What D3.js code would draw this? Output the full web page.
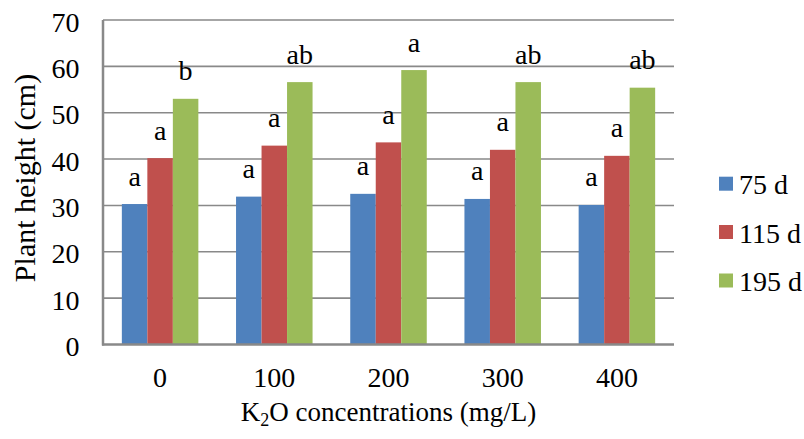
<!DOCTYPE html>
<html>
<head>
<meta charset="utf-8">
<script src="https://cdn.jsdelivr.net/npm/d3@7"></script>
<style>
  html, body { margin: 0; padding: 0; background: #fff; }
  svg { display: block; }
</style>
</head>
<body>
<svg id="chart" width="804" height="439" font-family="'Liberation Serif', 'Times New Roman', Times, serif"></svg>
<script>
const categories = ["0", "100", "200", "300", "400"];
const seriesNames = ["75 d", "115 d", "195 d"];
const values75 = [30.3, 31.9, 32.5, 31.4, 30.1];
const values115 = [40.2, 42.9, 43.6, 42.0, 40.7];
const values195 = [53.0, 56.6, 59.2, 56.6, 55.4];
const letters75 = ["a", "a", "a", "a", "a"];
const letters115 = ["a", "a", "a", "a", "a"];
const letters195 = ["b", "ab", "a", "ab", "ab"];
const yTicks = [0, 10, 20, 30, 40, 50, 60, 70];
const colors = ["#4F81BD", "#C0504D", "#9BBB59"];

const seriesValues = [values75, values115, values195];
const seriesLetters = [letters75, letters115, letters195];

const svg = d3.select("#chart");
const plotLeft = 103, plotRight = 674, plotTop = 20, plotBottom = 344.5;
const fs = 28;

const x = d3.scaleBand().domain(categories).range([plotLeft, plotRight]).paddingInner(0.33).paddingOuter(0.165);
const xs = d3.scaleBand().domain(seriesNames).range([0, x.bandwidth()]).padding(0);
const y = d3.scaleLinear().domain([0, 70]).range([plotBottom, plotTop]);

// gridlines
svg.append("g").selectAll("line").data(yTicks.filter(d => d > 0)).join("line")
  .attr("x1", plotLeft).attr("x2", plotRight)
  .attr("y1", d => y(d)).attr("y2", d => y(d))
  .attr("stroke", "#898989").attr("stroke-width", 1.6);

// bars
const data = [];
categories.forEach((c, i) => {
  seriesNames.forEach((s, j) => {
    data.push({ c, s, j, v: seriesValues[j][i], l: seriesLetters[j][i] });
  });
});

svg.append("g").selectAll("rect").data(data).join("rect")
  .attr("x", d => x(d.c) + xs(d.s))
  .attr("width", xs.bandwidth())
  .attr("y", d => y(d.v))
  .attr("height", d => y(0) - y(d.v))
  .attr("fill", d => colors[d.j]);

// letters
svg.append("g").selectAll("text").data(data).join("text")
  .attr("x", d => x(d.c) + xs(d.s) + xs.bandwidth() / 2)
  .attr("y", d => y(d.v) - 18.5)
  .attr("text-anchor", "middle")
  .attr("font-size", fs)
  .text(d => d.l);

// axes lines
svg.append("line").attr("x1", plotLeft).attr("x2", plotLeft).attr("y1", plotTop).attr("y2", plotBottom + 1)
  .attr("stroke", "#898989").attr("stroke-width", 2.5);
svg.append("line").attr("x1", plotLeft - 1).attr("x2", plotRight).attr("y1", plotBottom).attr("y2", plotBottom)
  .attr("stroke", "#898989").attr("stroke-width", 2.5);

// y tick labels
svg.append("g").selectAll("text").data(yTicks).join("text")
  .attr("x", 79.5).attr("y", d => y(d) + 11.5)
  .attr("text-anchor", "end").attr("font-size", fs)
  .text(d => d);

// x tick labels
svg.append("g").selectAll("text").data(categories).join("text")
  .attr("x", d => x(d) + x.bandwidth() / 2).attr("y", 387)
  .attr("text-anchor", "middle").attr("font-size", fs)
  .text(d => d);

// x title
const xt = svg.append("text").attr("x", (plotLeft + plotRight) / 2).attr("y", 421)
  .attr("text-anchor", "middle").attr("font-size", 27);
xt.append("tspan").text("K");
xt.append("tspan").attr("font-size", 18).attr("dy", 5).text("2");
xt.append("tspan").attr("dy", -5).text("O concentrations (mg/L)");

// y title
svg.append("text").attr("transform", "translate(35,178) rotate(-90)")
  .attr("text-anchor", "middle").attr("font-size", 30)
  .text("Plant height (cm)");

// legend
const legendY = [183.7, 232, 280.5];
const lg = svg.append("g").selectAll("g").data(seriesNames).join("g")
  .attr("transform", (d, i) => `translate(719,${legendY[i]})`);
lg.append("rect").attr("x", 0).attr("y", -7).attr("width", 14).attr("height", 14)
  .attr("fill", (d, i) => colors[i]);
lg.append("text").attr("x", 20).attr("y", 10.5)
  .attr("font-size", fs).text(d => d);
</script>
</body>
</html>
